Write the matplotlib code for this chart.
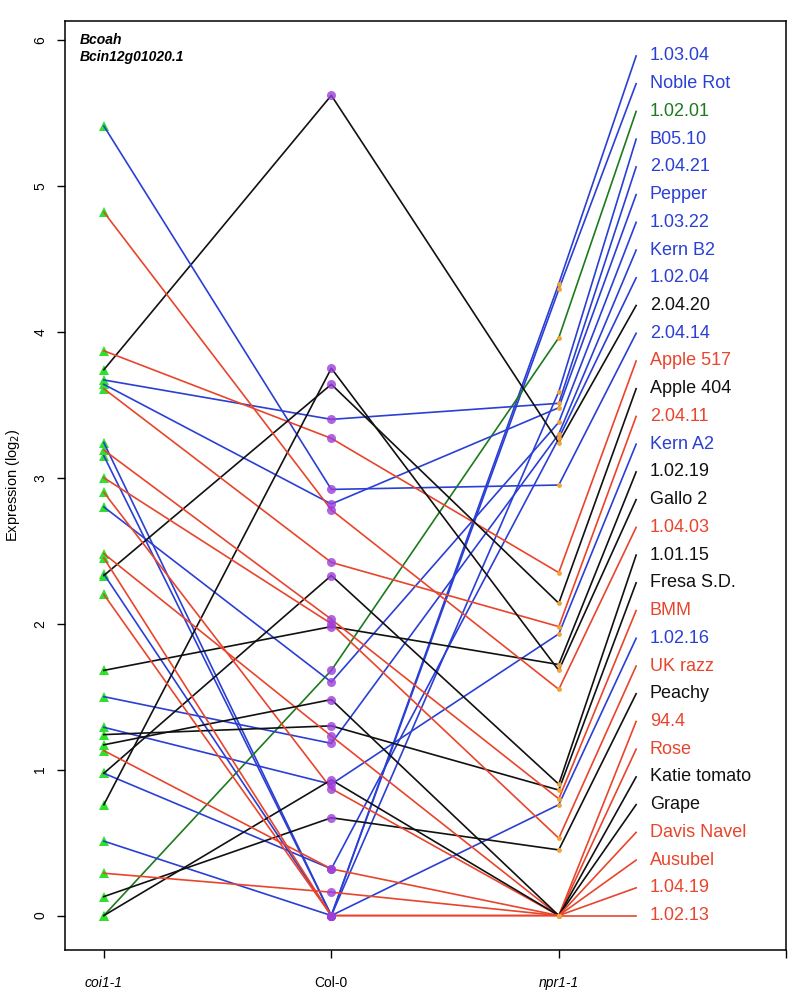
import matplotlib
matplotlib.use("Agg")
import matplotlib.pyplot as plt
import numpy as np

# ======================================================
# DATA
# ======================================================

isolates = [
    "1.03.04", "Noble Rot", "1.02.01", "B05.10", "2.04.21", "Pepper",
    "1.03.22", "Kern B2", "1.02.04", "2.04.20", "2.04.14", "Apple 517",
    "Apple 404", "2.04.11", "Kern A2", "1.02.19", "Gallo 2", "1.04.03",
    "1.01.15", "Fresa S.D.", "BMM", "1.02.16", "UK razz", "Peachy",
    "94.4", "Rose", "Katie tomato", "Grape", "Davis Navel", "Ausubel",
    "1.04.19", "1.02.13",
]

groups = [
    "b", "b", "g", "b", "b", "b",
    "b", "b", "b", "k", "b", "r",
    "k", "r", "b", "k", "k", "r",
    "k", "k", "r", "b", "r", "k",
    "r", "r", "k", "k", "r", "r",
    "r", "r",
]

coi = [
    3.24, 3.15, 0.00, 2.34, 3.67, 3.64,
    2.80, 1.50, 0.975, 3.74, 5.41, 3.87,
    2.33, 3.61, 1.29, 1.68, 0.76, 4.82,
    0.975, 1.24, 3.19, 0.51, 3.00, 0.13,
    2.48, 2.90, 0.00, 1.17, 1.13, 2.45,
    0.29, 2.20,
]

col = [
    0.00, 0.00, 1.68, 0.00, 3.40, 2.82,
    1.60, 1.18, 0.32, 5.62, 2.92, 3.27,
    3.64, 2.42, 0.90, 1.98, 3.75, 2.78,
    2.33, 1.30, 2.03, 0.00, 2.00, 0.67,
    1.23, 0.87, 0.93, 1.48, 0.32, 0.00,
    0.16, 0.00,
]

npr = [
    4.33, 4.29, 3.96, 3.59, 3.51, 3.48,
    3.38, 3.30, 3.27, 3.24, 2.95, 2.35,
    2.14, 1.98, 1.93, 1.72, 1.68, 1.55,
    0.90, 0.86, 0.80, 0.76, 0.53, 0.45,
    0.00, 0.00, 0.00, 0.00, 0.00, 0.00,
    0.00, 0.00,
]

genotypes = ["coi1-1", "Col-0", "npr1-1", ""]

# ======================================================
# STYLE
# ======================================================

plt.rcParams["font.family"] = ["Liberation Sans", "DejaVu Sans"]

COLORS = {"b": "#2a3fd4", "r": "#e8452c", "g": "#1d7a1d", "k": "#111111"}

LABEL_X = 3.34
TEXT_X = 3.40
label_y = np.linspace(max(npr) + 1.56, 0, len(isolates))

# ======================================================
# PLOT
# ======================================================

fig = plt.figure(figsize=(7.95, 9.93), dpi=100)
ax = fig.add_axes([0.082, 0.0433, 0.907, 0.9356])

ax.plot(np.ones(len(coi)), coi, "^", color="#2fe02f", ms=6.5,
        markeredgewidth=0, zorder=2)
ax.plot(np.full(len(col), 2), col, "o", color="#9b3fd8", alpha=0.8,
        ms=6.5, markeredgewidth=0, zorder=4)
ax.plot(np.full(len(npr), 3), npr, "o", color="#f2a33a", ms=3.5,
        markeredgewidth=0, zorder=4)

for i, name in enumerate(isolates):
    c = COLORS[groups[i]]
    ax.plot([1, 2, 3], [coi[i], col[i], npr[i]], color=c, lw=1.2, zorder=3)
    ax.plot([3, LABEL_X], [npr[i], label_y[i]], color=c, lw=1.2, zorder=3)
    ax.text(TEXT_X, label_y[i], name, color=c, fontsize=13,
            va="center", ha="left")

ax.text(0.895, 6.0, "Bcoah", fontsize=10, fontweight="bold",
        fontstyle="italic", va="center")
ax.text(0.895, 5.88, "Bcin12g01020.1", fontsize=10, fontweight="bold",
        fontstyle="italic", va="center")

ax.set_xlim(0.83, 4.0)
ax.set_ylim(-0.236, 6.13)

ax.set_xticks([1, 2, 3, 4])
ax.set_xticklabels(genotypes, fontsize=10)
for lab in ax.get_xticklabels():
    if lab.get_text() in ("coi1-1", "npr1-1"):
        lab.set_fontstyle("italic")

ax.set_yticks(range(0, 7))
ax.set_yticklabels([str(v) for v in range(0, 7)], rotation=90,
                   va="center", fontsize=10)
ax.tick_params(axis="x", length=6, width=1, direction="out", pad=13)
ax.tick_params(axis="y", length=6, width=1, direction="out", pad=7)
ax.set_ylabel("Expression (log$_2$)", fontsize=10.5, labelpad=8)

for s in ax.spines.values():
    s.set_linewidth(1.1)

fig.savefig("out.png", dpi=100)
